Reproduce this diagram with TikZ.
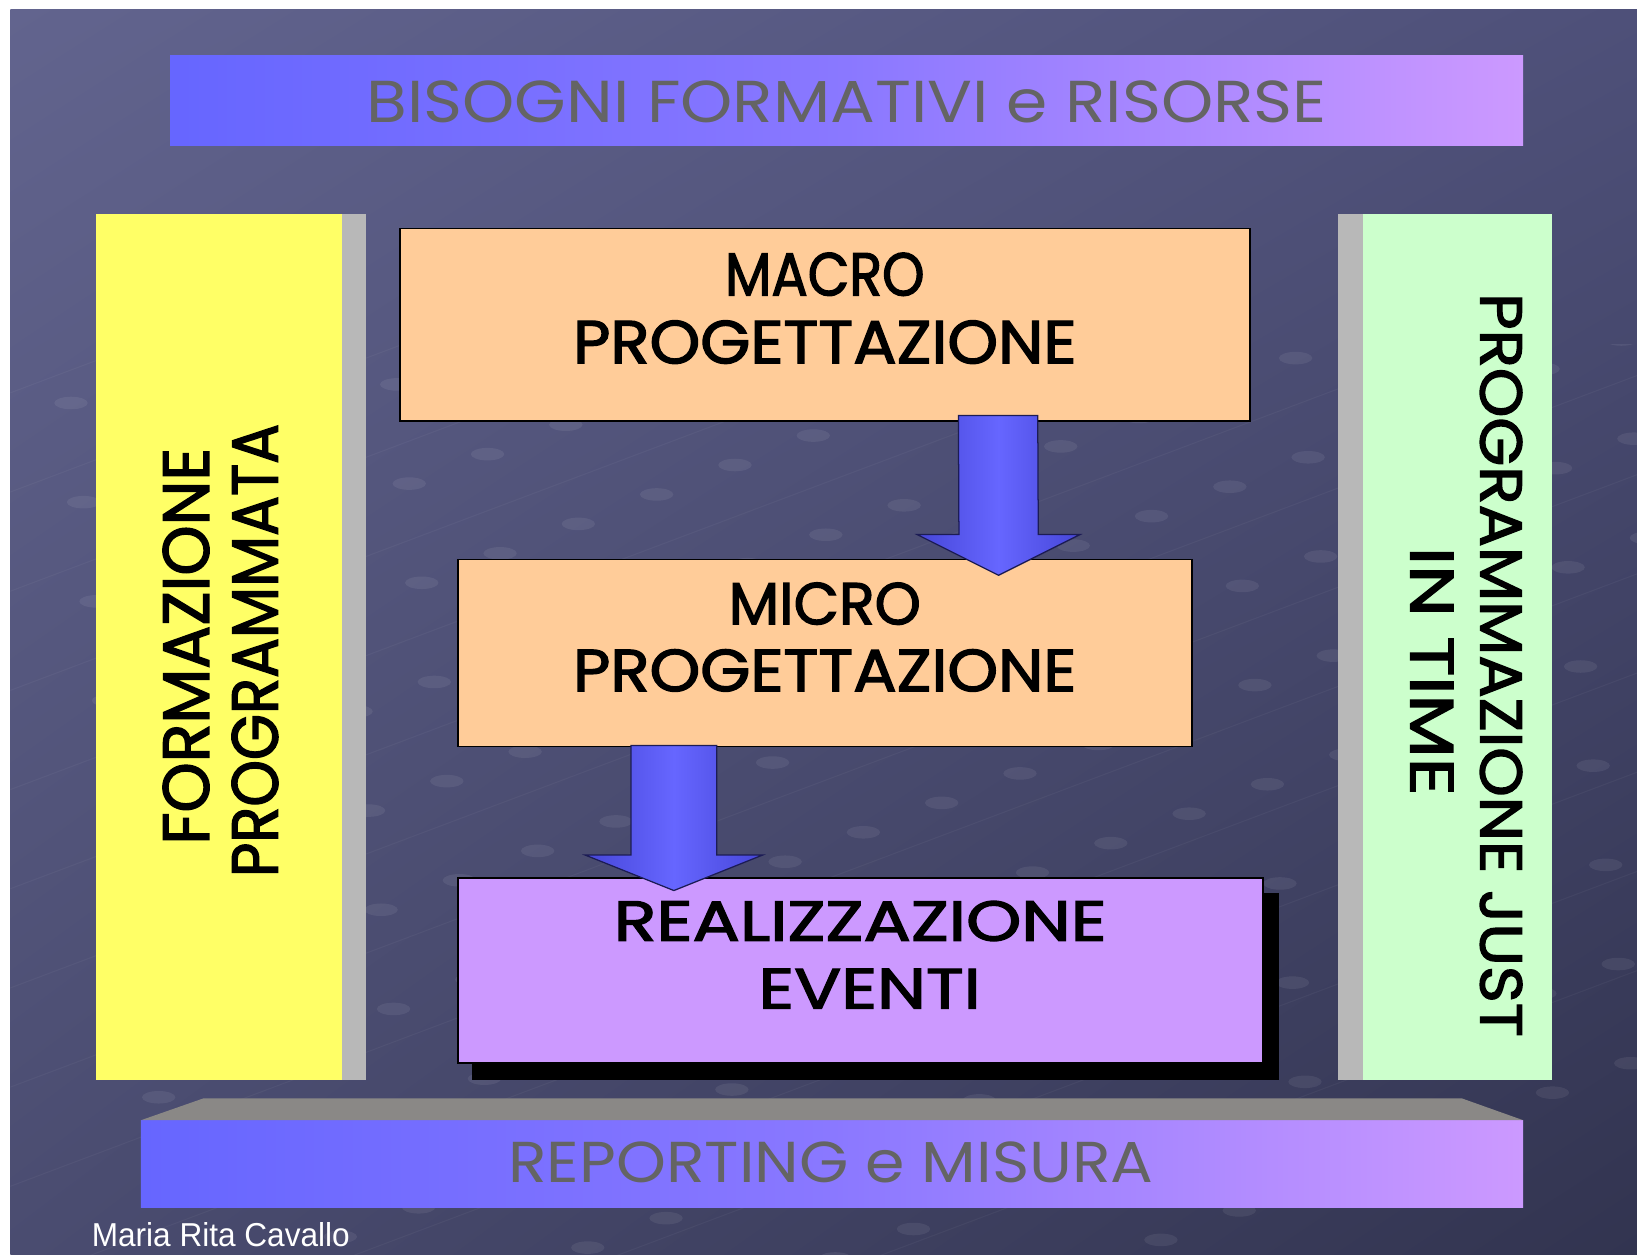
\documentclass[tikz,border=0pt]{standalone}
\usepackage{fontspec}
\setmainfont{Poppins}
\newfontfamily\heavy{Poppins}[FakeBold=2.2]
\newfontfamily\authorfont{Liberation Sans}
\usetikzlibrary{calc,shadings}
\definecolor{bgA}{HTML}{62648E}
\definecolor{bgB}{HTML}{4E5079}
\definecolor{bgC}{HTML}{4A4C70}
\definecolor{bgD}{HTML}{323450}
\definecolor{barblue}{HTML}{6666FF}
\definecolor{barmid}{HTML}{8A78FF}
\definecolor{barpurple}{HTML}{CC99FF}
\definecolor{bartext}{HTML}{646464}
\definecolor{topface}{HTML}{8A8886}
\definecolor{yellowc}{HTML}{FFFF66}
\definecolor{greenc}{HTML}{CCFFCC}
\definecolor{stripc}{HTML}{B8B8B8}
\definecolor{peach}{HTML}{FFCC99}
\definecolor{lilac}{HTML}{CC99FF}
\definecolor{arrowdark}{HTML}{4646D8}
\definecolor{arrowlight}{HTML}{6666FF}
\definecolor{arrowline}{HTML}{1C1C55}
\newcommand\fitt[3]{\resizebox{#1pt}{#2pt}{#3}}
\newcommand\blockarrow[5]{%
  \draw[arrowst] ($(#1)+(-#3,0)$) -- ($(#1)+(#3,0)$) -- ($(#2)+(#3,-#5)$)
    -- ($(#2)+(#4,-#5)$) -- (#2) -- ($(#2)+(-#4,-#5)$) -- ($(#2)+(-#3,-#5)$) -- cycle;}
\tikzset{
  rect/.style={inner sep=0pt, outer sep=0pt, anchor=north west},
  gradbar/.style={rect, left color=barblue, right color=barpurple, middle color=barmid},
  stepbox/.style={rect, draw=black, line width=1.6pt},
  txt/.style={inner sep=0pt, outer sep=0pt, anchor=base, font=\heavy},
  bartxt/.style={inner sep=0pt, outer sep=0pt, anchor=base, text=bartext},
  arrowst/.style={draw=arrowline, line width=1.2pt, line join=miter,
    left color=arrowdark, right color=arrowdark, middle color=arrowlight},
  bubble/.style={fill=white, opacity=0.07},
  bgline/.style={draw=white, opacity=0.04, line width=1pt},
}
\begin{document}
\begin{tikzpicture}[x=1pt,y=-1pt]
\useasboundingbox (0,0) rectangle (1568,1202);
\fill[white] (0,0) rectangle (1568,1202);
\shade[upper left=bgA, upper right=bgB, lower left=bgC, lower right=bgD] (10,9) rectangle (1568,1202);

% background texture (faint bubbles joined by lines)
\begin{scope}
\clip (10,330) rectangle (1568,1202);
\foreach \r in {-2,...,16} {
  \draw[bgline] (0,{\r*95}) -- ++(1700,-640);
  \foreach \c in {0,...,22} {
    \fill[bubble] ({\c*75+\r*12+20},{\r*95-\c*28.2+6}) ellipse (16 and 6);
  }
}
\end{scope}

% top bar
\node[gradbar, minimum width=1296pt, minimum height=86pt] (topbar) at (163,53) {};
\node[bartxt] (toptxt) at (811,117) {\fitt{920}{40}{BISOGNI FORMATIVI e RISORSE}};

% side bars
\node[rect, fill=yellowc, minimum width=236pt, minimum height=829pt] (leftbar) at (92,205) {};
\node[rect, fill=stripc, minimum width=23pt, minimum height=829pt] (leftstrip) at (328,205) {};
\node[txt, rotate=90] (form1) at (200,619) {\fitt{380}{44}{FORMAZIONE}};
\node[txt, rotate=90] (form2) at (266,623) {\fitt{434}{44}{PROGRAMMATA}};

\node[rect, fill=stripc, minimum width=24pt, minimum height=829pt] (rightstrip) at (1282,205) {};
\node[rect, fill=greenc, minimum width=181pt, minimum height=829pt] (rightbar) at (1306,205) {};
\node[txt, rotate=-90] (prog1) at (1418,637) {\fitt{712}{40}{PROGRAMMAZIONE JUST}};
\node[txt, rotate=-90] (prog2) at (1351,643) {\fitt{238}{41}{IN TIME}};

% central boxes
\node[stepbox, fill=peach, minimum width=814pt, minimum height=184pt] (macro) at (383,219) {};
\node[txt] (macro1) at (790,283) {\fitt{191}{41}{MACRO}};
\node[txt] (macro2) at (790,348) {\fitt{482}{41}{PROGETTAZIONE}};

\node[stepbox, fill=peach, minimum width=703pt, minimum height=179pt] (micro) at (439,536) {};
\node[txt] (micro1) at (790,598) {\fitt{184}{40}{MICRO}};
\node[txt] (micro2) at (790,662) {\fitt{482}{40}{PROGETTAZIONE}};

\node[rect, fill=black, minimum width=773pt, minimum height=179pt] (realshadow) at (452,855) {};
\node[stepbox, fill=lilac, minimum width=771pt, minimum height=177pt] (real) at (439,841) {};
\node[txt] (real1) at (824,901) {\fitt{472}{38}{REALIZZAZIONE}};
\node[txt] (real2) at (833,966) {\fitt{213}{38}{EVENTI}};

% block arrows
\coordinate (a1s) at ([xshift=166pt,yshift=5pt]macro.south);
\coordinate (a1t) at ([xshift=166pt,yshift=-15pt]micro.north);
\blockarrow{a1s}{a1t}{38}{78}{39}
\coordinate (a2s) at ([xshift=-145pt,yshift=1pt]micro.south);
\coordinate (a2t) at ([xshift=-179pt,yshift=-12pt]real.north);
\blockarrow{a2s}{a2t}{41}{85}{34}

% bottom bar
\node[gradbar, minimum width=1324pt, minimum height=84pt] (botbar) at (135,1073) {};
\fill[topface] (botbar.north west) -- ++(60,-21) -- ([xshift=-59pt,yshift=21pt]botbar.north east) -- (botbar.north east) -- cycle;
\node[bartxt] (bottxt) at (796,1133) {\fitt{618}{39}{REPORTING e MISURA}};

% author
\node[inner sep=0pt, outer sep=0pt, anchor=base west, text=white] (author) at (88,1194) {\authorfont\fitt{247}{23}{Maria Rita Cavallo}};
\end{tikzpicture}
\end{document}
